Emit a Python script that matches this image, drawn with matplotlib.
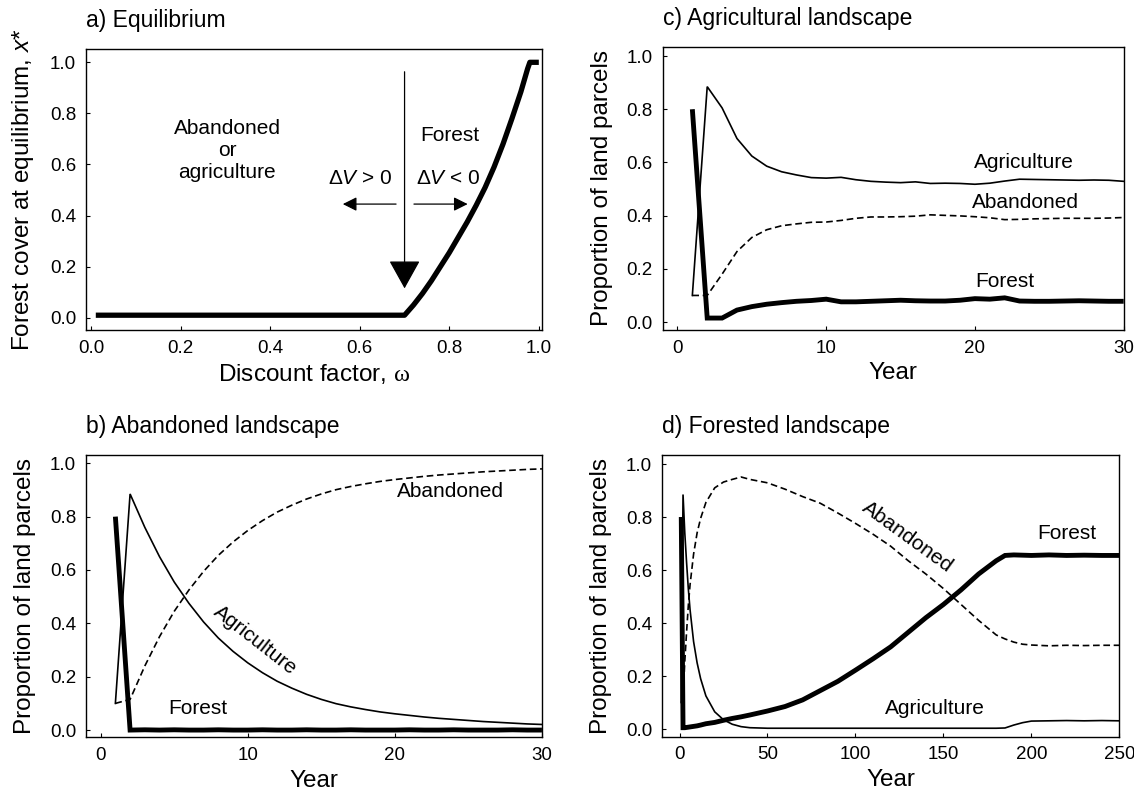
import matplotlib
matplotlib.use("Agg")
import matplotlib.pyplot as plt

plt.rcParams['font.family'] = ['Liberation Sans', 'DejaVu Sans']
plt.rcParams['mathtext.fontset'] = 'custom'
plt.rcParams['mathtext.rm'] = 'Liberation Sans'
plt.rcParams['mathtext.it'] = 'Liberation Sans:italic'
plt.rcParams['mathtext.sf'] = 'Liberation Serif'

# ---- a) equilibrium forest cover vs discount factor ----
omega = [0.01, 0.70, 0.72, 0.74, 0.76, 0.78, 0.80, 0.82, 0.84, 0.86, 0.88,
         0.90, 0.92, 0.94, 0.96, 0.975, 0.98, 1.0]
x_star = [0.01, 0.01, 0.05, 0.095, 0.145, 0.20, 0.255, 0.315, 0.375, 0.44, 0.51,
          0.59, 0.68, 0.78, 0.885, 0.975, 1.0, 1.0]

# ---- b) abandoned landscape ----
years_b = list(range(1, 31))
forest_b = [0.80, 0.0, 0.001, 0.0, 0.001, 0.0, 0.0, 0.001, 0.0, 0.0,
            0.001, 0.0, 0.0, 0.001, 0.0, 0.0, 0.001, 0.0, 0.0, 0.0,
            0.001, 0.0, 0.0, 0.001, 0.0, 0.0, 0.0, 0.001, 0.0, 0.0]
agri_b = [0.10, 0.885, 0.76, 0.65, 0.555, 0.475, 0.405, 0.345, 0.295, 0.252,
          0.215, 0.183, 0.157, 0.134, 0.115, 0.099, 0.087, 0.077, 0.068, 0.061,
          0.055, 0.049, 0.044, 0.040, 0.036, 0.032, 0.029, 0.026, 0.023, 0.021]
aband_b = [0.10, 0.115, 0.24, 0.35, 0.445, 0.525, 0.595, 0.655, 0.705, 0.748,
           0.785, 0.817, 0.843, 0.866, 0.885, 0.901, 0.913, 0.923, 0.932, 0.939,
           0.945, 0.951, 0.956, 0.960, 0.964, 0.968, 0.971, 0.974, 0.977, 0.979]

# ---- c) agricultural landscape ----
years_c = list(range(1, 31))
forest_c = [0.80, 0.015, 0.015, 0.045, 0.058, 0.067, 0.073, 0.078, 0.081, 0.086,
            0.076, 0.076, 0.078, 0.080, 0.082, 0.080, 0.079, 0.079, 0.082, 0.088,
            0.086, 0.091, 0.079, 0.078, 0.078, 0.079, 0.080, 0.079, 0.078, 0.078]
agri_c = [0.10, 0.885, 0.805, 0.69, 0.624, 0.586, 0.565, 0.553, 0.543, 0.541,
          0.544, 0.535, 0.529, 0.526, 0.524, 0.527, 0.521, 0.522, 0.521, 0.518,
          0.522, 0.530, 0.537, 0.536, 0.535, 0.534, 0.533, 0.534, 0.533, 0.529]
aband_c = [0.10, 0.10, 0.18, 0.265, 0.318, 0.347, 0.362, 0.369, 0.375, 0.376,
           0.382, 0.390, 0.395, 0.395, 0.396, 0.398, 0.403, 0.401, 0.399, 0.396,
           0.392, 0.385, 0.386, 0.388, 0.389, 0.390, 0.390, 0.390, 0.391, 0.393]

# ---- d) forested landscape ----
years_d = [1, 2, 3, 4, 5, 6, 8, 10, 12, 15, 20, 25, 30, 35, 40, 50, 60, 70, 80,
           90, 100, 110, 120, 130, 140, 150, 160, 170, 180, 185, 190, 195, 200,
           210, 220, 230, 240, 250]
forest_d = [0.80, 0.005, 0.005, 0.006, 0.007, 0.008, 0.010, 0.012, 0.015, 0.020,
            0.025, 0.033, 0.040, 0.046, 0.053, 0.068, 0.085, 0.110, 0.145, 0.180,
            0.222, 0.265, 0.310, 0.365, 0.420, 0.470, 0.525, 0.585, 0.635, 0.655,
            0.657, 0.656, 0.655, 0.657, 0.655, 0.656, 0.655, 0.655]
agri_d = [0.10, 0.885, 0.74, 0.63, 0.53, 0.45, 0.33, 0.25, 0.19, 0.125,
          0.065, 0.035, 0.018, 0.009, 0.005, 0.003, 0.003, 0.003, 0.003, 0.003,
          0.003, 0.003, 0.003, 0.003, 0.003, 0.003, 0.003, 0.003, 0.003, 0.004,
          0.015, 0.024, 0.030, 0.031, 0.032, 0.031, 0.032, 0.031]
aband_d = [0.10, 0.115, 0.255, 0.365, 0.465, 0.545, 0.66, 0.74, 0.795, 0.855,
           0.91, 0.932, 0.942, 0.951, 0.942, 0.929, 0.905, 0.877, 0.852, 0.815,
           0.776, 0.735, 0.69, 0.635, 0.585, 0.53, 0.47, 0.41, 0.355, 0.34,
           0.328, 0.32, 0.317, 0.314, 0.316, 0.315, 0.316, 0.316]

y_ticks = [0.0, 0.2, 0.4, 0.6, 0.8, 1.0]
y_tick_labels = ["0.0", "0.2", "0.4", "0.6", "0.8", "1.0"]
a_x_ticks = [0.0, 0.2, 0.4, 0.6, 0.8, 1.0]
a_x_tick_labels = ["0.0", "0.2", "0.4", "0.6", "0.8", "1.0"]
short_year_ticks = [0, 10, 20, 30]
long_year_ticks = [0, 50, 100, 150, 200, 250]

TITLE_FS = 16.5
LABEL_FS = 17.5
TICK_FS = 13.5
NOTE_FS = 15
THICK = 3.5
THIN = 1.2

fig = plt.figure(figsize=(11.34, 7.92), dpi=100)
ax_a = fig.add_axes([0.0758, 0.5833, 0.4021, 0.3548])
ax_b = fig.add_axes([0.0758, 0.0691, 0.4021, 0.3564])
ax_c = fig.add_axes([0.5843, 0.5833, 0.4066, 0.3577])
ax_d = fig.add_axes([0.5837, 0.0698, 0.4034, 0.3557])


def style(ax, title, xlabel, ylabel, xticks, xticklabels=None):
    ax.set_title(title, loc='left', fontsize=TITLE_FS, pad=16)
    ax.set_xlabel(xlabel, fontsize=LABEL_FS, labelpad=4)
    ax.set_ylabel(ylabel, fontsize=LABEL_FS, labelpad=10)
    ax.set_xticks(xticks)
    if xticklabels is not None:
        ax.set_xticklabels(xticklabels)
    ax.set_yticks(y_ticks)
    ax.set_yticklabels(y_tick_labels)
    ax.tick_params(direction='in', length=3, width=0.8, labelsize=TICK_FS,
                   pad=7, colors='black')
    for sp in ax.spines.values():
        sp.set_linewidth(1.0)
        sp.set_color('black')


def series(ax, x, forest, agri, aband):
    ax.plot(x, aband, color='black', lw=THIN, dashes=(4, 2.2))
    ax.plot(x, agri, color='black', lw=THIN, solid_joinstyle='miter')
    ax.plot(x, forest, color='black', lw=THICK, solid_capstyle='butt',
            solid_joinstyle='miter')


# a) equilibrium
ax_a.plot(omega, x_star, color='black', lw=3.8, solid_capstyle='butt')
ax_a.set_xlim(-0.012, 1.007)
ax_a.set_ylim(-0.048, 1.052)
style(ax_a, "a) Equilibrium", r"Discount factor, $\mathsf{\omega}$",
      r"Forest cover at equilibrium, $\mathit{x}$*", a_x_ticks, a_x_tick_labels)
ax_a.annotate("", xy=(0.70, 0.115), xytext=(0.70, 0.963),
              arrowprops=dict(arrowstyle='-|>,head_length=0.9,head_width=0.5',
                              mutation_scale=20, lw=0.9, color='black',
                              shrinkA=0, shrinkB=0))
ax_a.annotate("", xy=(0.562, 0.445), xytext=(0.681, 0.445),
              arrowprops=dict(arrowstyle='-|>,head_length=0.7,head_width=0.35',
                              mutation_scale=12, lw=0.9, color='black',
                              shrinkA=0, shrinkB=0))
ax_a.annotate("", xy=(0.841, 0.445), xytext=(0.721, 0.445),
              arrowprops=dict(arrowstyle='-|>,head_length=0.7,head_width=0.35',
                              mutation_scale=12, lw=0.9, color='black',
                              shrinkA=0, shrinkB=0))
ax_a.text(0.304, 0.656, "Abandoned\nor\nagriculture", ha='center', va='center',
          fontsize=NOTE_FS, linespacing=1.2)
ax_a.text(0.801, 0.715, "Forest", ha='center', va='center', fontsize=NOTE_FS)
ax_a.text(0.600, 0.547, r"$\Delta\mathit{V}$ > 0", ha='center', va='center',
          fontsize=NOTE_FS)
ax_a.text(0.797, 0.547, r"$\Delta\mathit{V}$ < 0", ha='center', va='center',
          fontsize=NOTE_FS)

# b) abandoned landscape
series(ax_b, years_b, forest_b, agri_b, aband_b)
ax_b.set_xlim(-1, 30)
ax_b.set_ylim(-0.027, 1.031)
style(ax_b, "b) Abandoned landscape", "Year", "Proportion of land parcels",
      short_year_ticks)
ax_b.text(23.8, 0.894, "Abandoned", ha='center', va='center', fontsize=NOTE_FS)
ax_b.text(10.5, 0.337, "Agriculture", ha='center', va='center',
          fontsize=NOTE_FS, rotation=-38, rotation_mode='anchor')
ax_b.text(6.6, 0.081, "Forest", ha='center', va='center', fontsize=NOTE_FS)

# c) agricultural landscape
series(ax_c, years_c, forest_c, agri_c, aband_c)
ax_c.set_xlim(-1, 30)
ax_c.set_ylim(-0.03, 1.035)
style(ax_c, "c) Agricultural landscape", "Year", "Proportion of land parcels",
      short_year_ticks)
ax_c.text(23.3, 0.600, "Agriculture", ha='center', va='center', fontsize=NOTE_FS)
ax_c.text(23.4, 0.448, "Abandoned", ha='center', va='center', fontsize=NOTE_FS)
ax_c.text(22.0, 0.154, "Forest", ha='center', va='center', fontsize=NOTE_FS)

# d) forested landscape
series(ax_d, years_d, forest_d, agri_d, aband_d)
ax_d.set_xlim(-10, 250)
ax_d.set_ylim(-0.029, 1.034)
style(ax_d, "d) Forested landscape", "Year", "Proportion of land parcels",
      long_year_ticks)
ax_d.text(129.3, 0.726, "Abandoned", ha='center', va='center', fontsize=NOTE_FS,
          rotation=-36, rotation_mode='anchor')
ax_d.text(219.9, 0.736, "Forest", ha='center', va='center', fontsize=NOTE_FS)
ax_d.text(145.4, 0.078, "Agriculture", ha='center', va='center', fontsize=NOTE_FS)

fig.savefig("out.png", dpi=100)
